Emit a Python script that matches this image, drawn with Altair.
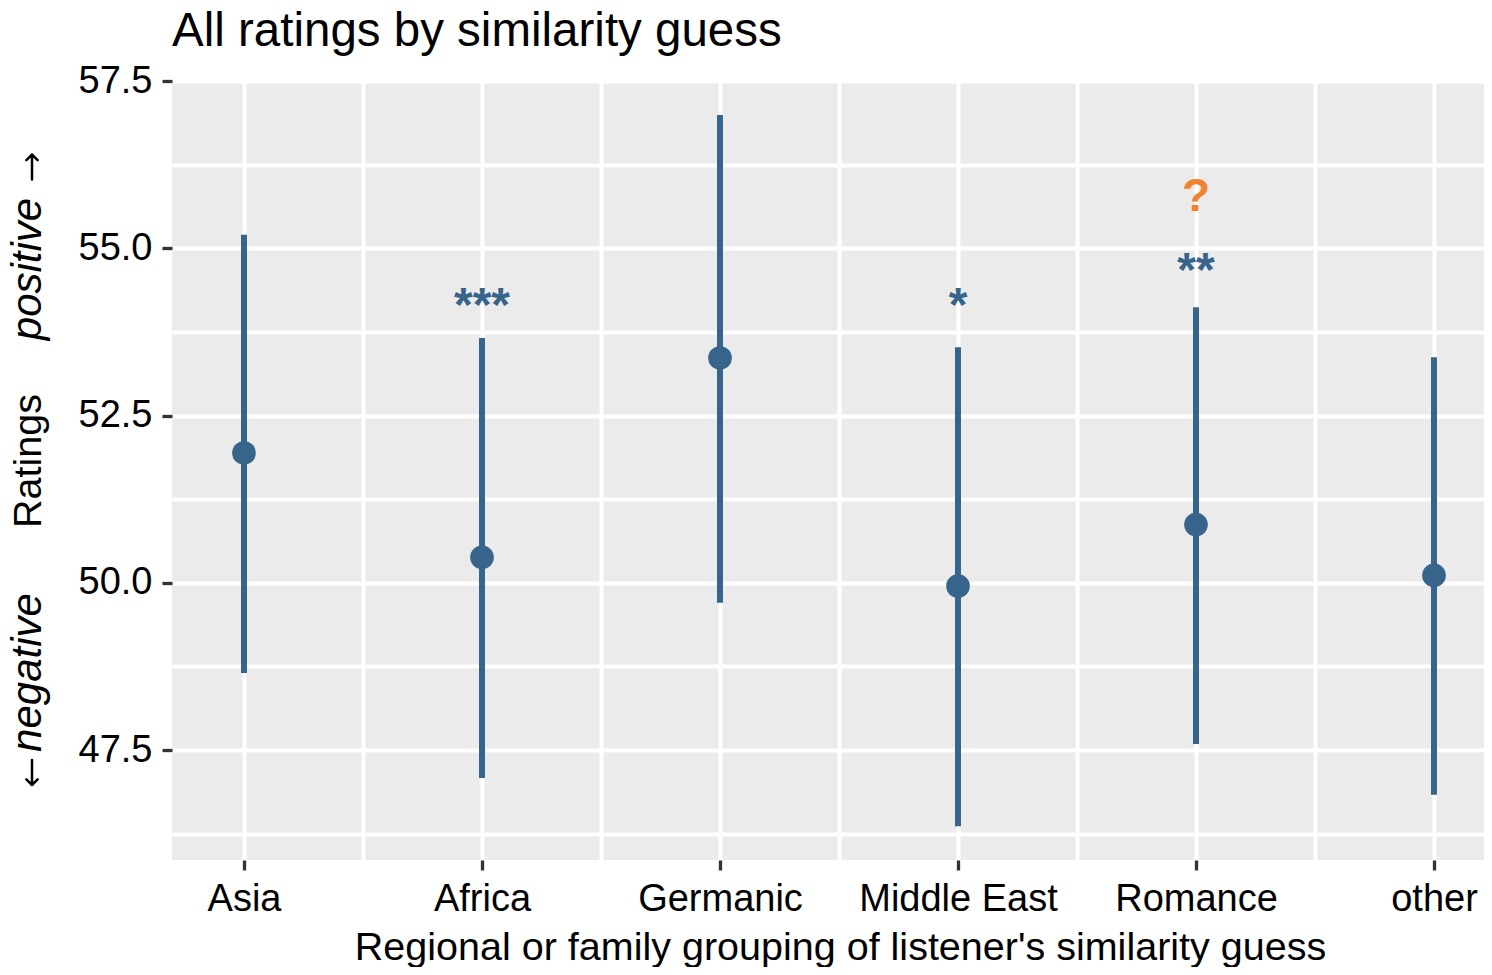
import altair as alt
import pandas as pd

# ---- data ----
categories = ["Asia", "Africa", "Germanic", "Middle East", "Romance", "other"]
means = [51.94, 50.38, 53.36, 49.95, 50.87, 50.11]
ci_low = [48.65, 47.08, 49.70, 46.36, 47.59, 46.83]
ci_high = [55.20, 53.66, 56.99, 53.52, 54.12, 53.37]
sig_marks = ["", "***", "", "*", "**", ""]
sig_y = [None, 53.92, None, 53.92, 54.44, None]
query_marks = ["", "", "", "", "?", ""]
query_y = [None, None, None, None, 55.55, None]

y_values = [46.25, 47.5, 48.75, 50.0, 51.25, 52.5, 53.75, 55.0, 56.25, 57.5]
x_values = [0, 0.5, 1, 1.5, 2, 2.5, 3, 3.5, 4, 4.5, 5]

title_text = "All ratings by similarity guess"
x_title = "Regional or family grouping of listener's similarity guess"

BLUE = "#36648B"
ORANGE = "#F0832F"
FONT = "Liberation Sans"

df = pd.DataFrame({
    "i": list(range(len(categories))),
    "group": categories,
    "mean": means,
    "lo": ci_low,
    "hi": ci_high,
    "sig": sig_marks,
    "sig_y": sig_y,
    "q": query_marks,
    "q_y": query_y,
})

cat_js = "[" + ",".join("'" + c + "'" for c in categories) + "]"

x_axis = alt.Axis(
    values=x_values,
    labelExpr=f"datum.value % 1 == 0 ? {cat_js}[datum.value] : ''",
    labelLimit=0,
    grid=True,
    gridColor="white",
    gridWidth=4,
    domain=False,
    tickColor="#333333",
    tickWidth=3.3,
    tickSize=10,
    tickOpacity={"condition": {"test": "datum.value % 1 == 0", "value": 1}, "value": 0},
    labelFontSize=38,
    labelColor="black",
    labelPadding=10,
    labelFont=FONT,
    title=x_title,
    titleFontSize=39.5,
    titleFont=FONT,
    titleFontWeight="normal",
    titleColor="black",
    titlePadding=10,
    titleX=668,
)
y_axis = alt.Axis(
    values=y_values,
    labelExpr="datum.value % 2.5 == 0 ? format(datum.value, '.1f') : ''",
    grid=True,
    gridColor="white",
    gridWidth=4,
    domain=False,
    tickColor="#333333",
    tickWidth=3.3,
    tickSize=10,
    tickOpacity={"condition": {"test": "datum.value % 2.5 == 0", "value": 1}, "value": 0},
    labelFontSize=38,
    labelColor="black",
    labelPadding=10,
    labelFont=FONT,
    title=None,
)

x_scale = alt.Scale(domain=[-0.3025, 5.2101], nice=False, zero=False)
y_scale = alt.Scale(domain=[45.856, 57.5], nice=False, zero=False)

base = alt.Chart(df)

bars = base.mark_rule(color=BLUE, strokeWidth=6).encode(
    x=alt.X("i:Q", scale=x_scale, axis=x_axis),
    y=alt.Y("lo:Q", scale=y_scale, axis=y_axis),
    y2="hi:Q",
)
points = base.mark_circle(color=BLUE, size=560, opacity=1).encode(
    x=alt.X("i:Q", scale=x_scale, axis=x_axis),
    y=alt.Y("mean:Q", scale=y_scale, axis=y_axis),
)
sig = base.transform_filter("datum.sig != ''").mark_text(
    color=BLUE, fontSize=48, fontWeight="bold", font=FONT, baseline="alphabetic", align="center"
).encode(
    x=alt.X("i:Q", scale=x_scale, axis=x_axis),
    y=alt.Y("sig_y:Q", scale=y_scale, axis=y_axis),
    text="sig:N",
)
query = base.transform_filter("datum.q != ''").mark_text(
    color=ORANGE, fontSize=46, fontWeight="bold", font=FONT, baseline="alphabetic", align="center"
).encode(
    x=alt.X("i:Q", scale=x_scale, axis=x_axis),
    y=alt.Y("q_y:Q", scale=y_scale, axis=y_axis),
    text="q:N",
)

one = alt.Chart(pd.DataFrame({"k": [0]}))


def side_text(txt, ypix, style="normal", size=39.5, xpix=-131):
    return one.mark_text(
        text=txt, angle=270, fontSize=size, font=FONT, fontStyle=style,
        color="black", baseline="alphabetic", align="center"
    ).encode(x=alt.value(xpix), y=alt.value(ypix))


def arrow(path, ypix, xpix=-140):
    return one.mark_point(
        shape=path, filled=False, stroke="black", strokeWidth=2.5, size=625,
        opacity=1, strokeCap="round", strokeJoin="round"
    ).encode(x=alt.value(xpix), y=alt.value(ypix))


UP = "M0,1 L0,-1 M-0.45,-0.55 L0,-1 L0.45,-0.55"
DOWN = "M0,-1 L0,1 M-0.45,0.55 L0,1 L0.45,0.55"

ytitle_mid = side_text("Ratings", 380)
ytitle_neg = side_text("negative", 591.5, style="italic", size=42)
ytitle_pos = side_text("positive", 188, style="italic", size=42)
arrow_neg = arrow(DOWN, 691.5)
arrow_pos = arrow(UP, 86)

chart = alt.layer(
    bars, points, sig, query, ytitle_mid, ytitle_neg, ytitle_pos, arrow_neg, arrow_pos
).properties(
    width=1312,
    height=779,
    title=alt.TitleParams(
        title_text, anchor="start", frame="group", fontSize=47.5, font=FONT,
        fontWeight="normal", color="black", offset=7,
    ),
    padding={"left": 164, "top": 73, "right": 0, "bottom": 107},
    autosize=alt.AutoSizeParams(type="none"),
    background="white",
).configure_view(
    fill="#EBEBEB", stroke=None
)

chart.save("out.html", embed_options={"renderer": "svg", "actions": False})
